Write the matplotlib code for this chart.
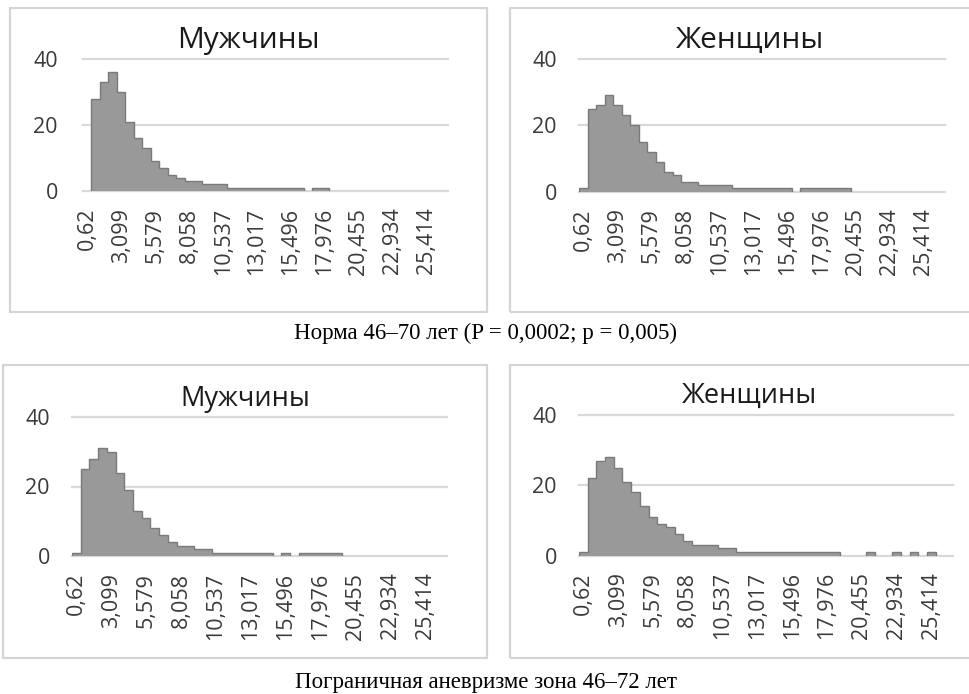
import matplotlib
matplotlib.use("Agg")
import matplotlib.pyplot as plt
from matplotlib.patches import Rectangle
import numpy as np

W, H = 970, 694

# histogram bins (43 categories, every 4th labelled)
n_bins = 43
tick_pos = list(range(0, 41, 4))
tick_labels = ["0,62", "3,099", "5,579", "8,058", "10,537", "13,017",
               "15,496", "17,976", "20,455", "22,934", "25,414"]

# Норма 46–70 лет
men_norm = [0, 28, 33, 36, 30, 21, 16, 13, 9, 7, 5, 4, 3, 3, 2, 2, 2,
            1, 1, 1, 1, 1, 1, 1, 1, 1, 0, 1, 1,
            0, 0, 0, 0, 0, 0, 0, 0, 0, 0, 0, 0, 0, 0]
women_norm = [1, 25, 26, 29, 26, 23, 20, 15, 12, 9, 6, 5, 3, 3, 2, 2, 2, 2, 1,
              1, 1, 1, 1, 1, 1, 0, 1, 1, 1, 1, 1, 1,
              0, 0, 0, 0, 0, 0, 0, 0, 0, 0, 0]
# Пограничная зона 46–72 лет
men_border = [1, 25, 28, 31, 30, 24, 19, 13, 11, 8, 6, 4, 3, 3, 2, 2,
              1, 1, 1, 1, 1, 1, 1, 0, 1, 0, 1, 1, 1, 1, 1,
              0, 0, 0, 0, 0, 0, 0, 0, 0, 0, 0, 0]
women_border = [1, 22, 27, 28, 25, 21, 18, 14, 11, 9, 8, 6, 4, 3, 3, 3, 2, 2,
                1, 1, 1, 1, 1, 1, 1, 1, 1, 1, 1, 1,
                0, 0, 0, 1, 0, 0, 1, 0, 1, 0, 1, 0, 0]

titles = ["Мужчины", "Женщины", "Мужчины", "Женщины"]
caption_top = "Норма 46–70 лет (P = 0,0002; p = 0,005)"
caption_bottom = "Пограничная аневризме зона 46–72 лет"

# layout in pixels: frame (x0, y0, x1, y1), plot (x0, y40, x1, y0), title baseline, title size, ylabel pad
layout = [
    ((10, 8, 487, 312), (83, 59, 448, 191), 48, 21.5, 18),
    ((510, 8, 990, 312), (579, 59, 945, 191.5), 48, 21.5, 16),
    ((3, 365, 487, 658), (72, 417, 447, 556), 406, 19.5, 16),
    ((510, 365, 990, 658), (579, 415, 953, 555.5), 403, 19.5, 16),
]
series = [men_norm, women_norm, men_border, women_border]

plt.rcParams['font.family'] = ['Open Sans', 'DejaVu Sans']

fig = plt.figure(figsize=(W / 100, H / 100), dpi=100)
fig.patch.set_facecolor("white")
edges = np.arange(n_bins + 1) - 0.5

for vals, title, (frame, plot, ty, tsize, ypad) in zip(series, titles, layout):
    fx0, fy0, fx1, fy1 = frame
    fig.patches.append(Rectangle((fx0 / W, 1 - fy1 / H), (fx1 - fx0) / W, (fy1 - fy0) / H,
                                 transform=fig.transFigure, fill=False,
                                 edgecolor="#d4d4d4", linewidth=1.6))
    fig.text((fx0 + fx1) / 2 / W, 1 - ty / H, title, ha="center", va="baseline",
             fontsize=tsize, color="#1a1a1a")

    px0, py40, px1, py0 = plot
    ax = fig.add_axes([px0 / W, 1 - py0 / H, (px1 - px0) / W, (py0 - py40) / H])
    ax.stairs(vals, edges, fill=True, facecolor="#999999", linewidth=0, zorder=3)
    outline = [v if v > 0 else np.nan for v in vals]
    ax.stairs(outline, edges, baseline=0, fill=False, color="#7a7a7a",
              linewidth=1.0, zorder=4)
    ax.set_xlim(-0.5, n_bins - 0.5)
    ax.set_ylim(0, 40)
    ax.set_yticks([0, 20, 40])
    ax.yaxis.grid(True, color="#d9d9d9", linewidth=1.6)
    for gl in ax.get_ygridlines():
        gl.set_clip_on(False)
    ax.set_axisbelow(True)
    ax.set_xticks(tick_pos)
    ax.set_xticklabels(tick_labels, rotation=90)
    for s in ax.spines.values():
        s.set_visible(False)
    ax.tick_params(axis="both", length=0, labelsize=15.5, labelcolor="#3a3a3a")
    ax.tick_params(axis="y", pad=ypad)
    ax.tick_params(axis="x", pad=12)
    ax.patch.set_alpha(0)

fig.text(486 / W, 1 - 339 / H, caption_top, ha="center", va="baseline",
         family="Liberation Serif", fontsize=16.5, color="black")
fig.text(486 / W, 1 - 688 / H, caption_bottom, ha="center", va="baseline",
         family="Liberation Serif", fontsize=16.5, color="black")

fig.savefig("out.png", dpi=100)
